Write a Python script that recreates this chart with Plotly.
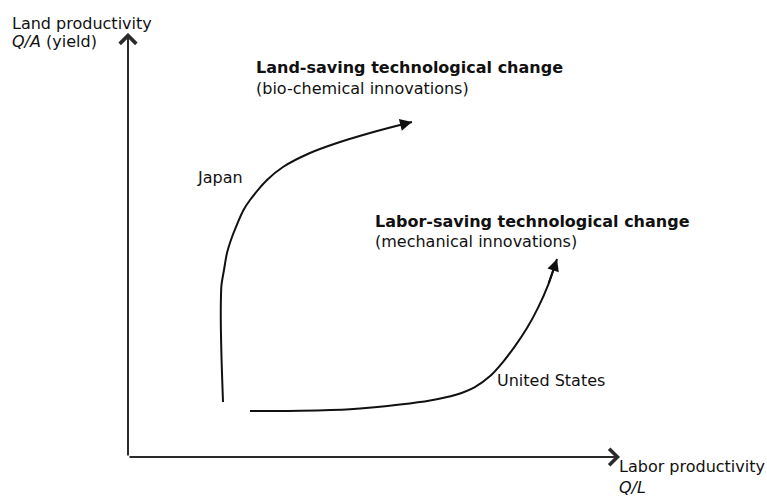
import plotly.graph_objects as go

# Curves (x = labor productivity Q/L, y = land productivity Q/A, 0-100 units)
japan_x = [19.31, 19.15, 19.02, 18.92, 18.86, 18.88, 19.00, 19.51, 20.12, 21.14, 22.36, 23.48,
           24.80, 28.25, 31.50, 36.99, 42.48, 49.19, 55.28, 57.72]
japan_y = [12.97, 18.16, 22.88, 27.59, 32.31, 37.03, 40.57, 44.10, 48.11, 51.89, 55.42, 58.25,
           60.61, 65.33, 68.40, 71.70, 74.06, 76.42, 78.30, 79.01]

us_x = [24.8, 35.0, 45.1, 55.3, 61.4, 66.5, 70.5, 73.6, 76.2, 78.7, 81.1, 83.3, 85.4, 87.2]
us_y = [10.85, 10.9, 11.25, 12.38, 13.33, 14.62, 16.5, 19.1, 22.4, 26.2, 30.4, 35.1, 40.6, 46.7]

axis_max_x = 100
axis_max_y = 100

FONT = "DejaVu Sans"
TXT = "#111111"

fig = go.Figure()
for xs, ys in [(japan_x, japan_y), (us_x, us_y)]:
    fig.add_trace(go.Scatter(x=xs, y=ys, mode="lines",
                             line=dict(color="#111111", width=2, shape="spline", smoothing=0.8),
                             hoverinfo="skip", showlegend=False))

annotations = []
# axes with open chevron heads
annotations.append(dict(x=axis_max_x, y=0, ax=0, ay=0, xref="x", yref="y", axref="x", ayref="y",
                        text="", showarrow=True, arrowhead=4, arrowsize=1.6, arrowwidth=2,
                        arrowcolor="#2a2a2a", standoff=0, startstandoff=0))
annotations.append(dict(x=0, y=axis_max_y, ax=0, ay=0, xref="x", yref="y", axref="x", ayref="y",
                        text="", showarrow=True, arrowhead=4, arrowsize=1.6, arrowwidth=2,
                        arrowcolor="#2a2a2a", standoff=0, startstandoff=0))
# curve arrowheads
for xs, ys in [(japan_x, japan_y), (us_x, us_y)]:
    annotations.append(dict(x=xs[-1], y=ys[-1], ax=xs[-2], ay=ys[-2], xref="x", yref="y",
                            axref="x", ayref="y", text="", showarrow=True, arrowhead=2,
                            arrowsize=1.2, arrowwidth=2, arrowcolor="#111111",
                            standoff=0, startstandoff=0))

def label(x, y, text, bold=False):
    # positions in paper units (0-1 across the plotting area; may go outside)
    annotations.append(dict(x=x, y=y, xref="paper", yref="paper", text=text, showarrow=False,
                            xanchor="left", yanchor="middle", align="left",
                            font=dict(family=FONT, size=16, color=TXT,
                                      weight="bold" if bold else "normal")))

label(-0.240, 1.023, "Land productivity")
label(-0.239, 0.980, "<i>Q/A</i> (yield)")
label(0.256, 0.919, "Land-saving technological change", bold=True)
label(0.256, 0.869, "(bio-chemical innovations)")
label(0.136, 0.659, "Japan")
label(0.498, 0.555, "Labor-saving technological change", bold=True)
label(0.498, 0.508, "(mechanical innovations)")
label(0.746, 0.180, "United States")
label(0.994, -0.022, "Labor productivity")
label(0.994, -0.072, "<i>Q/L</i>")

fig.update_layout(
    width=767, height=497,
    margin=dict(l=128, r=147, t=33, b=40),
    paper_bgcolor="white", plot_bgcolor="white",
    xaxis=dict(range=[0, axis_max_x], visible=False, fixedrange=True),
    yaxis=dict(range=[0, axis_max_y], visible=False, fixedrange=True),
    annotations=annotations,
    showlegend=False,
)

fig.write_html("out.html", config={"displayModeBar": False},
               post_script="document.body.style.margin='0';document.body.style.overflow='hidden';")
